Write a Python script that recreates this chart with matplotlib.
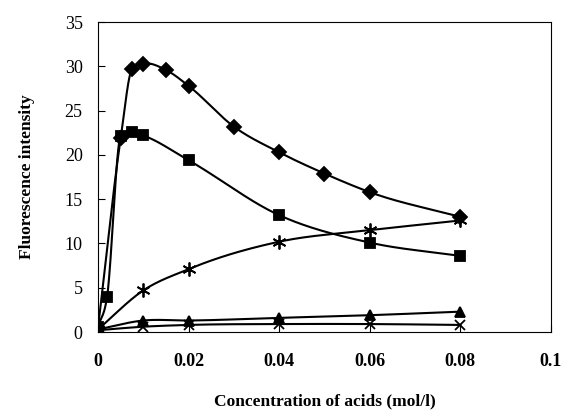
import numpy as np
import matplotlib
matplotlib.use("Agg")
import matplotlib.pyplot as plt

plt.rcParams["font.family"] = ["Liberation Serif", "DejaVu Serif"]

# data (concentration in mol/l)
x_diamond = [0, 0.005, 0.0075, 0.01, 0.015, 0.02, 0.03, 0.04, 0.05, 0.06, 0.08]
y_diamond = [0.5, 21.9, 29.7, 30.3, 29.6, 27.8, 23.2, 20.3, 17.9, 15.8, 13.0]

x_square = [0, 0.002, 0.005, 0.0075, 0.01, 0.02, 0.04, 0.06, 0.08]
y_square = [0.6, 4.0, 22.1, 22.6, 22.2, 19.4, 13.2, 10.1, 8.6]

x_star = [0, 0.01, 0.02, 0.04, 0.06, 0.08]
y_star = [0.3, 4.7, 7.1, 10.2, 11.5, 12.6]

x_tri = [0, 0.01, 0.02, 0.04, 0.06, 0.08]
y_tri = [0.3, 1.3, 1.3, 1.6, 1.9, 2.3]

x_cross = [0, 0.01, 0.02, 0.04, 0.06, 0.08]
y_cross = [0.2, 0.6, 0.8, 0.9, 0.9, 0.8]

x_ticks = [0, 0.02, 0.04, 0.06, 0.08, 0.1]
x_ticklabels = ["0", "0.02", "0.04", "0.06", "0.08", "0.1"]
y_ticks = [0, 5, 10, 15, 20, 25, 30, 35]


def smooth(xs, ys, n=40):
    # cubic Hermite through the points, slopes limited in monotone stretches
    xs = np.asarray(xs, float)
    ys = np.asarray(ys, float)
    h = np.diff(xs)
    d = np.diff(ys) / h
    m = np.zeros_like(ys)
    m[0], m[-1] = d[0], d[-1]
    for i in range(1, len(xs) - 1):
        m[i] = (d[i - 1] * h[i] + d[i] * h[i - 1]) / (h[i - 1] + h[i])
        if d[i - 1] * d[i] > 0:
            lim = 3 * min(abs(d[i - 1]), abs(d[i]))
            m[i] = np.sign(m[i]) * min(abs(m[i]), lim)
    out_x, out_y = [], []
    t = np.linspace(0, 1, n)
    for i in range(len(h)):
        h00 = 2 * t**3 - 3 * t**2 + 1
        h10 = t**3 - 2 * t**2 + t
        h01 = -2 * t**3 + 3 * t**2
        h11 = t**3 - t**2
        out_x.extend(xs[i] + t * h[i])
        out_y.extend(h00 * ys[i] + h10 * h[i] * m[i] + h01 * ys[i + 1] + h11 * h[i] * m[i + 1])
    return out_x, out_y


fig = plt.figure(figsize=(5.65, 4.18), dpi=100)
ax = fig.add_axes([0.1735, 0.2057, 0.8015, 0.7413])

series = [
    (x_diamond, y_diamond, "D", 7),
    (x_square, y_square, "s", 7),
    (x_star, y_star, (6, 2, 0), 10),
    (x_tri, y_tri, "^", 7),
    (x_cross, y_cross, "x", 7.5),
]
for xs, ys, m, ms in series:
    sx, sy = smooth(xs, ys)
    ax.plot(sx, sy, color="black", lw=1.5)
    ax.plot(xs, ys, ls="none", marker=m, ms=ms, color="black", mew=1.3)

ax.set_xlim(0, 0.1)
ax.set_ylim(0, 35)
ax.set_xticks(x_ticks)
ax.set_xticklabels(x_ticklabels, fontweight="bold")
ax.set_yticks(y_ticks)
ax.tick_params(axis="both", direction="in", length=5, width=0.8, labelsize=13)
ax.tick_params(axis="x", pad=15)
ax.tick_params(axis="y", pad=11)
for s in ax.spines.values():
    s.set_linewidth(0.8)

ax.set_xlabel("Concentration of acids (mol/l)", fontsize=12.5, fontweight="bold", labelpad=17)
ax.set_ylabel("Fluorescence intensity", fontsize=12.5, fontweight="bold", labelpad=21)

fig.savefig("out.png", dpi=100)
plt.close(fig)
